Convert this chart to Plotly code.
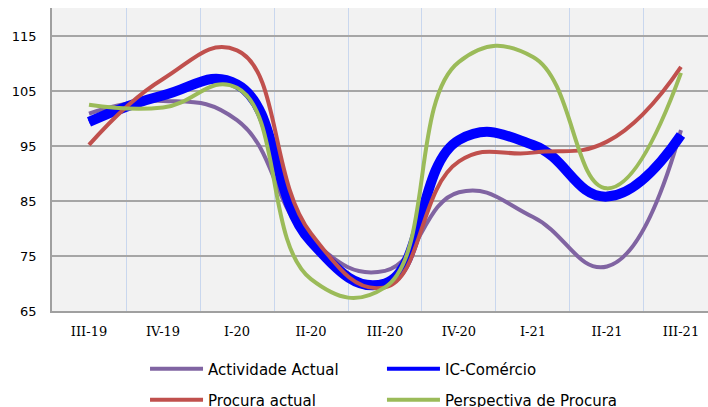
import plotly.graph_objects as go

# Quarter labels and index values
quarters = ["III-19", "IV-19", "I-20", "II-20", "III-20", "IV-20", "I-21", "II-21", "III-21"]
actividade_actual = [100.9, 103.2, 99.7, 77.9, 72.3, 86.6, 82.1, 73.1, 97.9]
ic_comercio = [99.4, 104.2, 106.2, 77.6, 70.0, 96.1, 95.2, 85.8, 97.0]
procura_actual = [95.2, 107.2, 112.4, 79.1, 69.3, 92.2, 93.8, 95.8, 109.4]
perspectiva_procura = [102.5, 102.0, 105.6, 70.8, 69.3, 110.3, 111.2, 87.3, 108.3]

x = list(range(len(quarters)))

PURPLE, BLUE, RED, GREEN = "#8064A2", "#0000FF", "#C0504D", "#9BBB59"

def spline(name, vals, color, width, legend=None, show=True):
    return go.Scatter(
        x=x, y=vals, name=name, mode="lines",
        line=dict(color=color, width=width, shape="spline", smoothing=1.3),
        legend=legend or "legend", showlegend=show,
    )

fig = go.Figure()
fig.add_trace(spline("Actividade Actual", actividade_actual, PURPLE, 4, "legend"))
# thin copy carries the legend entry; the thick line is drawn on top of it
fig.add_trace(spline("IC-Comércio", ic_comercio, BLUE, 4, "legend2"))
fig.add_trace(spline("IC-Comércio", ic_comercio, BLUE, 10, show=False))
fig.add_trace(spline("Procura actual", procura_actual, RED, 4, "legend3"))
fig.add_trace(spline("Perspectiva de Procura", perspectiva_procura, GREEN, 4, "legend4"))

legend_font = dict(family="DejaVu Sans", size=15, color="#000000")

def legend_box(xp, yp):
    return dict(
        orientation="h", x=xp, y=yp, xanchor="left", yanchor="middle",
        itemwidth=53, font=legend_font, bgcolor="rgba(0,0,0,0)",
        borderwidth=0, itemclick=False, itemdoubleclick=False,
    )

col1, col2 = 0.1418, 0.503
row1, row2 = -0.1914, -0.2937

fig.update_layout(
    width=708, height=407,
    margin=dict(l=52, r=0, t=8, b=96, autoexpand=False),
    paper_bgcolor="#FFFFFF",
    plot_bgcolor="#F2F2F2",
    showlegend=True,
    legend=legend_box(col1, row1),
    legend2=legend_box(col2, row1),
    legend3=legend_box(col1, row2),
    legend4=legend_box(col2, row2),
    xaxis=dict(
        range=[-0.5, 8.365],
        tickmode="array", tickvals=x, ticktext=quarters,
        tickfont=dict(family="DejaVu Serif", size=13, color="#000000"),
        showgrid=False, zeroline=False,
        showline=True, linecolor="#A0A0A0", linewidth=1.5,
        ticks="", ticklabelstandoff=8,
        minor=dict(tickmode="array", tickvals=[i + 0.5 for i in range(8)],
                   showgrid=True, gridcolor="#C9D7EE", gridwidth=1.2),
        fixedrange=True,
    ),
    yaxis=dict(
        range=[65, 120.1],
        tickmode="array", tickvals=[65, 75, 85, 95, 105, 115],
        tickfont=dict(family="DejaVu Sans", size=13, color="#000000"),
        showgrid=True, gridcolor="#A6A6A6", gridwidth=1.5,
        zeroline=False,
        showline=True, linecolor="#A0A0A0", linewidth=1.5,
        ticks="", ticklabelstandoff=11,
        fixedrange=True,
    ),
)

fig.write_html("out.html")
